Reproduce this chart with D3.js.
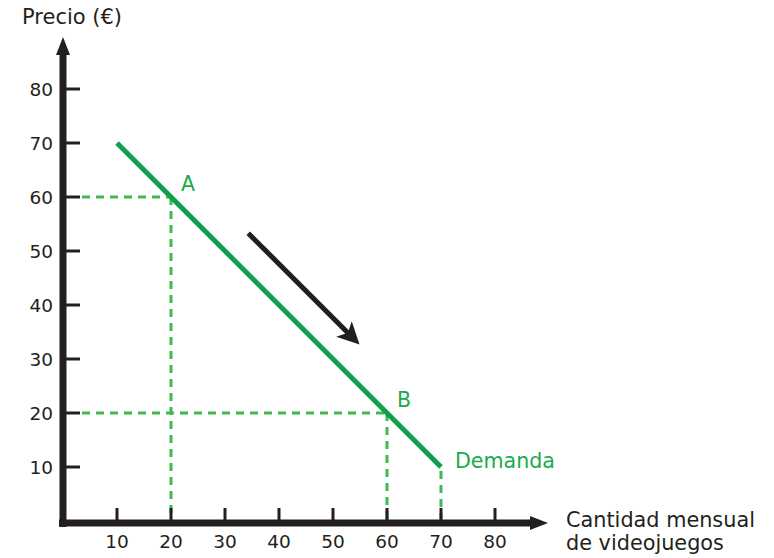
<!DOCTYPE html>
<html>
<head>
<meta charset="utf-8">
<script src="https://cdn.jsdelivr.net/npm/d3@7"></script>
<style>
  body { margin: 0; background: #fff; }
  svg { display: block; font-family: "DejaVu Sans", Verdana, sans-serif; }
</style>
</head>
<body>
<svg width="774" height="558"></svg>
<script>
var xTicks = [10, 20, 30, 40, 50, 60, 70, 80];
var yTicks = [10, 20, 30, 40, 50, 60, 70, 80];

// curva de demanda
var demandQ = [10, 70];
var demandP = [70, 10];

// puntos marcados
var pointNames = ["A", "B"];
var pointQ = [20, 60];
var pointP = [60, 20];

// flecha del movimiento
var moveQ = [34.3, 54.4];
var moveP = [53.3, 33.2];

var svg = d3.select("svg"),
    width = +svg.attr("width"),
    height = +svg.attr("height");

var x = d3.scaleLinear().domain([0, 80]).range([63, 495]);
var y = d3.scaleLinear().domain([0, 80]).range([521, 89]);

var dark = "#231f20",
    green = "#11a04a",
    dashGreen = "#3cba4f";

var defs = svg.append("defs");
defs.append("marker")
    .attr("id", "head")
    .attr("viewBox", "0 0 10 10")
    .attr("refX", 5).attr("refY", 5)
    .attr("markerWidth", 4.4).attr("markerHeight", 4.4)
    .attr("markerUnits", "strokeWidth")
    .attr("orient", "auto")
  .append("path")
    .attr("d", "M0,0L10,5L0,10L2.5,5Z")
    .attr("fill", dark);

// líneas guía punteadas
var guides = svg.append("g")
    .attr("stroke", dashGreen)
    .attr("stroke-width", 3)
    .attr("stroke-dasharray", "8,6")
    .attr("fill", "none");

pointNames.forEach(function(n, i) {
  guides.append("line")
      .attr("x1", x(0) + 19).attr("y1", y(pointP[i]))
      .attr("x2", x(pointQ[i])).attr("y2", y(pointP[i]));
  guides.append("line")
      .attr("x1", x(pointQ[i])).attr("y1", y(pointP[i]))
      .attr("x2", x(pointQ[i])).attr("y2", y(0) - 2);
});
guides.append("line")
    .attr("x1", x(demandQ[1])).attr("y1", y(demandP[1]) + 4)
    .attr("x2", x(demandQ[1])).attr("y2", y(0) - 2);

// ejes
var axes = svg.append("g").attr("stroke", dark).attr("fill", "none");

axes.append("path")
    .attr("d", "M" + x(0) + "," + (y(0) + 6) + "V" + 50)
    .attr("stroke-width", 7);
axes.append("path")
    .attr("d", "M" + (x(0) - 4) + "," + (y(0) + 2) + "H" + 534)
    .attr("stroke-width", 7);

svg.append("path")
    .attr("d", "M" + x(0) + ",37L" + (x(0) - 7) + ",55L" + (x(0) + 7) + ",55Z")
    .attr("fill", dark);
svg.append("path")
    .attr("d", "M548," + (y(0) + 2) + "L530," + (y(0) - 5) + "L530," + (y(0) + 9) + "Z")
    .attr("fill", dark);

axes.selectAll(".ytick")
  .data(yTicks)
  .enter().append("line")
    .attr("x1", x(0) + 3).attr("x2", x(0) + 17)
    .attr("y1", function(d) { return y(d); })
    .attr("y2", function(d) { return y(d); })
    .attr("stroke-width", 3);

axes.selectAll(".xtick")
  .data(xTicks)
  .enter().append("line")
    .attr("x1", function(d) { return x(d); })
    .attr("x2", function(d) { return x(d); })
    .attr("y1", y(0) - 1).attr("y2", y(0) - 13)
    .attr("stroke-width", 3);

svg.selectAll(".ylab")
  .data(yTicks)
  .enter().append("text")
    .attr("x", x(0) - 10)
    .attr("y", function(d) { return y(d) + 7; })
    .attr("text-anchor", "end")
    .attr("font-size", 18.5)
    .attr("fill", dark)
    .text(function(d) { return d; });

svg.selectAll(".xlab")
  .data(xTicks)
  .enter().append("text")
    .attr("x", function(d) { return x(d); })
    .attr("y", y(0) + 27)
    .attr("text-anchor", "middle")
    .attr("font-size", 18.5)
    .attr("fill", dark)
    .text(function(d) { return d; });

svg.append("text")
    .attr("x", 22).attr("y", 24)
    .attr("font-size", 21)
    .attr("fill", dark)
    .text("Precio (€)");

var xTitle = svg.append("text")
    .attr("x", 566).attr("y", 527)
    .attr("font-size", 20.8)
    .attr("fill", dark);
xTitle.append("tspan").attr("x", 566).text("Cantidad mensual");
xTitle.append("tspan").attr("x", 566).attr("dy", 23).text("de videojuegos");

// curva de demanda
svg.append("line")
    .attr("x1", x(demandQ[0])).attr("y1", y(demandP[0]))
    .attr("x2", x(demandQ[1])).attr("y2", y(demandP[1]))
    .attr("stroke", green)
    .attr("stroke-width", 5);

svg.append("text")
    .attr("x", 455).attr("y", 468)
    .attr("font-size", 20.6)
    .attr("fill", "#1aab4b")
    .text("Demanda");

svg.selectAll(".pt")
  .data(pointNames)
  .enter().append("text")
    .attr("x", function(d, i) { return x(pointQ[i]) + 10; })
    .attr("y", function(d, i) { return y(pointP[i]) - 6; })
    .attr("font-size", 20.5)
    .attr("fill", "#1aab4b")
    .text(function(d) { return d; });

// flecha
svg.append("line")
    .attr("x1", x(moveQ[0])).attr("y1", y(moveP[0]))
    .attr("x2", x(moveQ[1]) - 5).attr("y2", y(moveP[1]) - 5)
    .attr("stroke", dark)
    .attr("stroke-width", 5)
    .attr("marker-end", "url(#head)");
</script>
</body>
</html>
